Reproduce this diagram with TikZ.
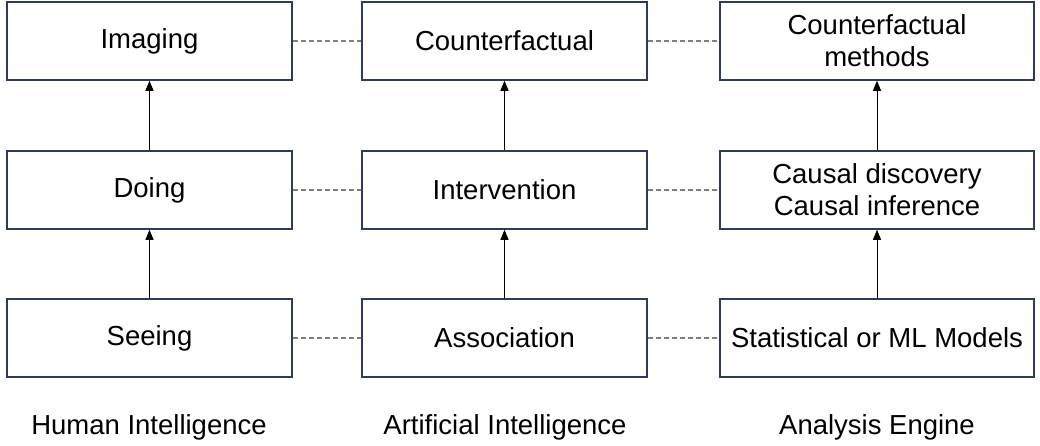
\documentclass[tikz,border=0pt]{standalone}
\usepackage{fontspec}
\setmainfont{Liberation Sans}
\usetikzlibrary{arrows.meta}
\definecolor{boxline}{HTML}{2F3C58}
\definecolor{dashgray}{HTML}{7F7F7F}
\tikzset{
  box/.style={draw=boxline, line width=1.5pt, fill=white, inner sep=0pt, minimum height=78pt, align=center,
    font=\fontsize{27.5}{32}\selectfont},
  narrowbox/.style={box, minimum width=285pt},
  widebox/.style={box, minimum width=314pt},
  uparrow/.style={draw=black, line width=1pt, -{Triangle[length=10pt,width=8pt]}},
  dashlink/.style={draw=dashgray, line width=1.2pt, dash pattern=on 5pt off 3pt},
  caption/.style={font=\fontsize{27.5}{32}\selectfont, inner sep=0pt}
}
\begin{document}
\begin{tikzpicture}[x=1pt,y=-1pt]
\useasboundingbox (0,0) rectangle (1040,445);
% column 1
\node[narrowbox] (img) at (149.5,41) {Imaging};
\node[narrowbox] (doing) at (149.5,190) {Doing};
\node[narrowbox] (seeing) at (149.5,338) {Seeing};
% column 2
\node[narrowbox] (cf) at (504.5,41) {Counterfactual};
\node[narrowbox] (interv) at (504.5,190) {Intervention};
\node[narrowbox] (assoc) at (504.5,338) {Association};
% column 3
\node[widebox] (cfm) at (877,41) {Counterfactual\\methods};
\node[widebox] (causal) at (877,190) {Causal discovery\\Causal inference};
\node[widebox] (stat) at (877,338) {Statistical or ML Models};
% arrows
\draw[uparrow] (seeing.north) -- (doing.south);
\draw[uparrow] (doing.north) -- (img.south);
\draw[uparrow] (assoc.north) -- (interv.south);
\draw[uparrow] (interv.north) -- (cf.south);
\draw[uparrow] (stat.north) -- (causal.south);
\draw[uparrow] (causal.north) -- (cfm.south);
% dashed links
\draw[dashlink] (img.east) -- (cf.west);
\draw[dashlink] (cf.east) -- (cfm.west);
\draw[dashlink] (doing.east) -- (interv.west);
\draw[dashlink] (interv.east) -- (causal.west);
\draw[dashlink] (seeing.east) -- (assoc.west);
\draw[dashlink] (assoc.east) -- (stat.west);
% captions
\node[caption] (hi) at (149,427) {Human Intelligence};
\node[caption] (ai) at (505,427) {Artificial Intelligence};
\node[caption] (ae) at (877,427) {Analysis Engine};
\end{tikzpicture}
\end{document}
